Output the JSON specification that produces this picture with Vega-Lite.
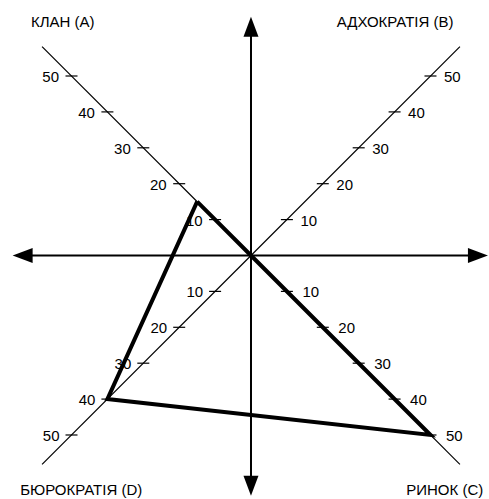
{
  "$schema": "https://vega.github.io/schema/vega-lite/v6.json",
  "width": 489,
  "height": 499,
  "padding": 0,
  "autosize": {"type": "fit", "contains": "padding"},
  "config": {"view": {"stroke": null}, "text": {"font": "Liberation Sans"}},
  "datasets": {
    "diagonals": [
      {"axis": "A", "x": 0, "y": 0, "x2": -58.2, "y2": 58.2},
      {"axis": "B", "x": 0, "y": 0, "x2": 58.2, "y2": 58.2},
      {"axis": "C", "x": 0, "y": 0, "x2": 58.2, "y2": -58.2},
      {"axis": "D", "x": 0, "y": 0, "x2": -58.2, "y2": -58.2}
    ],
    "shafts": [
      {"dir": "h", "x": -63.6, "y": 0, "x2": 63.2, "y2": 0},
      {"dir": "v", "x": 0, "y": 63.7, "x2": 0, "y2": -64.1}
    ],
    "arrows": [
      {"dir": "right", "x": 66.0, "y": 0},
      {"dir": "left", "x": -66.4, "y": 0},
      {"dir": "up", "x": 0, "y": 66.5},
      {"dir": "down", "x": 0, "y": -66.9}
    ],
    "ticks": [
      {"axis": "A", "label": "10", "x": -10, "y": 10},
      {"axis": "A", "label": "20", "x": -20, "y": 20},
      {"axis": "A", "label": "30", "x": -30, "y": 30},
      {"axis": "A", "label": "40", "x": -40, "y": 40},
      {"axis": "A", "label": "50", "x": -50, "y": 50},
      {"axis": "B", "label": "10", "x": 10, "y": 10},
      {"axis": "B", "label": "20", "x": 20, "y": 20},
      {"axis": "B", "label": "30", "x": 30, "y": 30},
      {"axis": "B", "label": "40", "x": 40, "y": 40},
      {"axis": "B", "label": "50", "x": 50, "y": 50},
      {"axis": "C", "label": "10", "x": 10, "y": -10},
      {"axis": "C", "label": "20", "x": 20, "y": -20},
      {"axis": "C", "label": "30", "x": 30, "y": -30},
      {"axis": "C", "label": "40", "x": 40, "y": -40},
      {"axis": "C", "label": "50", "x": 50, "y": -50},
      {"axis": "D", "label": "10", "x": -10, "y": -10},
      {"axis": "D", "label": "20", "x": -20, "y": -20},
      {"axis": "D", "label": "30", "x": -30, "y": -30},
      {"axis": "D", "label": "40", "x": -40, "y": -40},
      {"axis": "D", "label": "50", "x": -50, "y": -50}
    ],
    "profile": [
      {"order": 1, "culture": "Клан (A)", "score": 15, "x": -15, "y": 15},
      {"order": 2, "culture": "Адхократія (B)", "score": 0, "x": 0, "y": 0},
      {"order": 3, "culture": "Ринок (C)", "score": 50, "x": 50, "y": -50},
      {"order": 4, "culture": "Бюрократія (D)", "score": 40, "x": -40, "y": -40},
      {"order": 5, "culture": "Клан (A)", "score": 15, "x": -15, "y": 15}
    ],
    "titles": [
      {"label": "КЛАН (A)", "side": "left", "x": -61.3, "y": 65.1},
      {"label": "АДХОКРАТІЯ (B)", "side": "right", "x": 56.4, "y": 65.1},
      {"label": "БЮРОКРАТІЯ (D)", "side": "left", "x": -64.3, "y": -65.3},
      {"label": "РИНОК (C)", "side": "right", "x": 64.7, "y": -65.3}
    ]
  },
  "encoding": {
    "x": {"field": "x", "type": "quantitative", "scale": {"domain": [-69.92, 66.3], "nice": false, "zero": false}, "axis": null},
    "y": {"field": "y", "type": "quantitative", "scale": {"domain": [-67.83, 71.17], "nice": false, "zero": false}, "axis": null}
  },
  "layer": [
    {
      "data": {"name": "diagonals"},
      "mark": {"type": "rule", "color": "black", "strokeWidth": 1.2},
      "encoding": {"x2": {"field": "x2"}, "y2": {"field": "y2"}}
    },
    {
      "data": {"name": "ticks"},
      "mark": {"type": "point", "shape": "stroke", "size": 144, "color": "black", "strokeWidth": 1.2, "filled": false, "opacity": 1},
      "encoding": {}
    },
    {
      "data": {"name": "ticks"},
      "transform": [{"filter": "datum.axis === 'A'"}],
      "mark": {"type": "text", "align": "right", "baseline": "middle", "dx": -12.5, "dy": 1, "fontSize": 15, "color": "black"},
      "encoding": {"text": {"field": "label"}}
    },
    {
      "data": {"name": "ticks"},
      "transform": [{"filter": "datum.axis === 'D'"}],
      "mark": {"type": "text", "align": "right", "baseline": "middle", "dx": -12, "dy": 1, "fontSize": 15, "color": "black"},
      "encoding": {"text": {"field": "label"}}
    },
    {
      "data": {"name": "ticks"},
      "transform": [{"filter": "datum.axis === 'B'"}],
      "mark": {"type": "text", "align": "left", "baseline": "middle", "dx": 13.5, "dy": 1, "fontSize": 15, "color": "black"},
      "encoding": {"text": {"field": "label"}}
    },
    {
      "data": {"name": "ticks"},
      "transform": [{"filter": "datum.axis === 'C'"}],
      "mark": {"type": "text", "align": "left", "baseline": "middle", "dx": 15.5, "dy": 1, "fontSize": 15, "color": "black"},
      "encoding": {"text": {"field": "label"}}
    },
    {
      "data": {"name": "shafts"},
      "mark": {"type": "rule", "color": "black", "strokeWidth": 2},
      "encoding": {"x2": {"field": "x2"}, "y2": {"field": "y2"}}
    },
    {
      "data": {"name": "arrows"},
      "mark": {"type": "point", "filled": true, "color": "black", "opacity": 1, "size": 400, "strokeWidth": 0},
      "encoding": {
        "shape": {
          "field": "dir",
          "type": "nominal",
          "scale": {
            "domain": ["right", "left", "up", "down"],
            "range": ["M0,0L-2,-0.75L-2,0.75Z", "M0,0L2,-0.75L2,0.75Z", "M0,0L-0.75,2L0.75,2Z", "M0,0L-0.75,-2L0.75,-2Z"]
          },
          "legend": null
        }
      }
    },
    {
      "data": {"name": "profile"},
      "mark": {"type": "line", "color": "black", "strokeWidth": 4, "strokeJoin": "miter", "strokeCap": "butt"},
      "encoding": {"order": {"field": "order", "type": "quantitative"}}
    },
    {
      "data": {"name": "titles"},
      "transform": [{"filter": "datum.side === 'left'"}],
      "mark": {"type": "text", "align": "left", "baseline": "middle", "fontSize": 15, "color": "black"},
      "encoding": {"text": {"field": "label"}}
    },
    {
      "data": {"name": "titles"},
      "transform": [{"filter": "datum.side === 'right'"}],
      "mark": {"type": "text", "align": "right", "baseline": "middle", "fontSize": 15, "color": "black"},
      "encoding": {"text": {"field": "label"}}
    }
  ]
}
